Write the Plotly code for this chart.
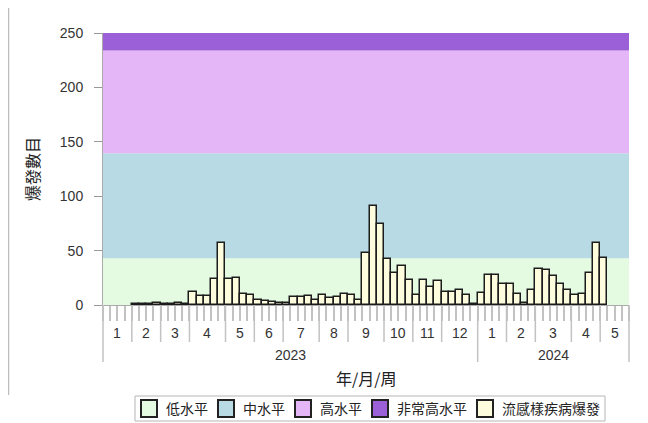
import plotly.graph_objects as go

# ---- data ----
YEARS = [2023, 2024]
WEEKS_PER_YEAR = [52, 21]
MONTH_WEEKS_2023 = [4, 4, 4, 5, 4, 4, 5, 4, 5, 4, 4, 5]
MONTH_WEEKS_2024 = [4, 4, 5, 4, 4]
MONTH_LABELS_2023 = [str(m) for m in range(1, 13)]
MONTH_LABELS_2024 = [str(m) for m in range(1, 6)]

outbreaks_2023 = [None, None, None, None,
                  1, 1, 1, 2, 1, 1, 2, 1, 12, 8, 8, 24, 57, 24, 25, 10, 9, 5,
                  4, 3, 2, 2, 7, 7, 8, 5, 9, 6, 7, 10, 9, 5, 48, 91, 74, 42, 29, 36,
                  23, 9, 23, 17, 22, 12, 12, 14, 9, 1]
outbreaks_2024 = [11, 28, 28, 19, 19, 10, 2, 14, 33, 32, 27, 19, 14, 9, 10, 29, 57, 43,
                  None, None, None]

LEVEL_NAMES = ["低水平", "中水平", "高水平", "非常高水平"]
LEVEL_BOUNDS = [0, 43, 139.5, 234, 250]
LEVEL_COLORS = ["#e4fbe2", "#b8dae5", "#e4b6f7", "#9b5fd8"]
BAR_NAME = "流感樣疾病爆發"
BAR_COLOR = "#fdfcdc"

Y_TICKS = [0, 50, 100, 150, 200, 250]

# ---- layout (page body has an 8px margin; coordinates below are screen px) ----
OFF = 8
W, H = 640, 415
PLOT_L, PLOT_R, PLOT_T, PLOT_B = 103, 629, 33, 305
ML, MT = PLOT_L - OFF, PLOT_T - OFF
MR = W - (PLOT_R - OFF)
MB = H - (PLOT_B - OFF)
PW, PH = PLOT_R - PLOT_L, PLOT_B - PLOT_T


def px_x(x):
    return (x - PLOT_L) / PW


def px_y(y):
    return (PLOT_B - y) / PH


values = outbreaks_2023 + outbreaks_2024
n = len(values)
xpos = [i + 0.5 for i in range(n)]

FONT = "Liberation Sans, Arial, Noto Sans CJK TC, sans-serif"
CJK = "Noto Sans CJK TC, Noto Sans CJK SC, sans-serif"
TXT = "#333333"
TICKC = "#c2c2c2"

fig = go.Figure()
fig.add_trace(go.Bar(
    x=xpos, y=values, width=1.0,
    marker=dict(color=BAR_COLOR, line=dict(color="#1c1c1c", width=1.5)),
    showlegend=False, name=BAR_NAME, hoverinfo="x+y",
))

shapes = []
annotations = []
for i in range(len(LEVEL_NAMES)):
    shapes.append(dict(type="rect", xref="paper", yref="y", x0=0, x1=1,
                       y0=LEVEL_BOUNDS[i], y1=LEVEL_BOUNDS[i + 1],
                       fillcolor=LEVEL_COLORS[i], line=dict(width=0), layer="below"))

start = 0
for yr, nw, mweeks, mlabels in zip(YEARS, WEEKS_PER_YEAR,
                                   [MONTH_WEEKS_2023, MONTH_WEEKS_2024],
                                   [MONTH_LABELS_2023, MONTH_LABELS_2024]):
    shapes.append(dict(type="line", xref="paper", yref="paper",
                       x0=start / n, x1=start / n, y0=0, y1=px_y(362),
                       line=dict(color=TICKC, width=1.5), layer="above"))
    m0 = start
    for k, (mw, ml) in enumerate(zip(mweeks, mlabels)):
        if k > 0:
            shapes.append(dict(type="line", xref="paper", yref="paper",
                               x0=m0 / n, x1=m0 / n, y0=0, y1=px_y(342),
                               line=dict(color=TICKC, width=1.5), layer="above"))
        annotations.append(dict(x=m0 + mw / 2, y=px_y(333), xref="x", yref="paper",
                                text=ml, showarrow=False, yanchor="middle",
                                font=dict(family=FONT, size=14, color=TXT)))
        m0 += mw
    annotations.append(dict(x=start + nw / 2, y=px_y(355), xref="x", yref="paper",
                            text=str(yr), showarrow=False, yanchor="middle",
                            font=dict(family=FONT, size=14, color=TXT)))
    start += nw
shapes.append(dict(type="line", xref="paper", yref="paper",
                   x0=1, x1=1, y0=0, y1=px_y(362),
                   line=dict(color=TICKC, width=1.5), layer="above"))

# axis titles
annotations.append(dict(x=0.5, y=px_y(378), xref="paper", yref="paper",
                        text="年/月/周", showarrow=False, yanchor="middle",
                        font=dict(family=CJK, size=16, color="#222222")))
annotations.append(dict(x=px_x(32), y=0.5, xref="paper", yref="paper",
                        text="爆發數目", showarrow=False, textangle=-90,
                        xanchor="center", yanchor="middle",
                        font=dict(family=CJK, size=16, color="#222222")))

# legend (boxes + labels)
LEG_FS = 14
leg_names = LEVEL_NAMES + [BAR_NAME]
leg_cols = LEVEL_COLORS + [BAR_COLOR]
lx = 141
ly_top, ly_bot = 400, 417
leg_x0 = lx - 6
for name, col in zip(leg_names, leg_cols):
    shapes.append(dict(type="rect", xref="paper", yref="paper",
                       x0=px_x(lx), x1=px_x(lx + 16), y0=px_y(ly_bot), y1=px_y(ly_top),
                       fillcolor=col, line=dict(color="#222222", width=2)))
    tx = lx + 23
    annotations.append(dict(x=px_x(tx), y=px_y((ly_top + ly_bot) / 2), xref="paper",
                            yref="paper", text=name, showarrow=False, xanchor="left",
                            yanchor="middle",
                            font=dict(family=CJK, size=LEG_FS, color="#222222")))
    lx = tx + LEG_FS * len(name) + 12
leg_x1 = lx - 5
shapes.append(dict(type="rect", xref="paper", yref="paper",
                   x0=px_x(leg_x0), x1=px_x(leg_x1), y0=px_y(421), y1=px_y(396),
                   line=dict(color="#b5b5b5", width=1)))

# page frame line on the left
shapes.append(dict(type="line", xref="paper", yref="paper",
                   x0=px_x(8.5), x1=px_x(8.5), y0=px_y(8), y1=px_y(395),
                   line=dict(color="#bdbdbd", width=1.5)))

fig.update_layout(
    width=W, height=H,
    margin=dict(l=ML, r=MR, t=MT, b=MB, autoexpand=False),
    paper_bgcolor="white", plot_bgcolor="white",
    bargap=0, showlegend=False,
    shapes=shapes, annotations=annotations,
    font=dict(family=FONT, size=13, color=TXT),
    xaxis=dict(range=[0, n], tickvals=list(range(n + 1)), ticks="outside", ticklen=15,
               tickcolor=TICKC, tickwidth=1.5, showticklabels=False, showgrid=False,
               zeroline=False, showline=True, linecolor="#aaaaaa", linewidth=1, fixedrange=True),
    yaxis=dict(range=[0, 250], tickvals=Y_TICKS, ticks="outside", ticklen=8,
               tickcolor="#999999", showgrid=False, zeroline=False, showline=True,
               linecolor="#aaaaaa", linewidth=1, ticklabelstandoff=8,
               tickfont=dict(family=FONT, size=14, color=TXT), fixedrange=True),
)

fig.write_html("out.html")
